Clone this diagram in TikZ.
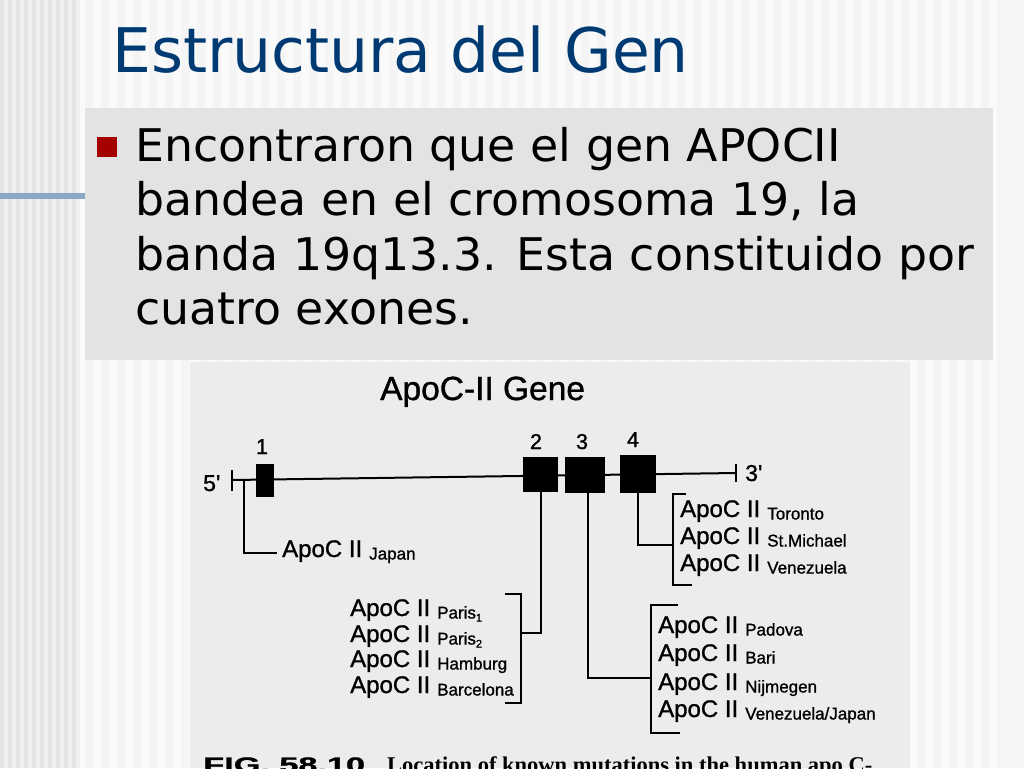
\documentclass[tikz,border=0pt]{standalone}
\usepackage{fontspec}
\setmainfont{DejaVu Sans}
\newfontfamily\figfont[FakeBold=1.1]{Liberation Sans}
\newfontfamily\capserif{Liberation Serif}
\definecolor{titleblue}{RGB}{0,58,115}
\definecolor{bulletred}{RGB}{165,0,0}
\definecolor{boxgrey}{RGB}{227,227,227}
\definecolor{scangrey}{RGB}{236,236,236}
\definecolor{lineblue}{RGB}{141,167,198}
\definecolor{bgA}{RGB}{245,245,245}
\definecolor{bgB}{RGB}{250,250,250}
\definecolor{bandA}{RGB}{229,229,229}
\definecolor{bandB}{RGB}{240,240,240}
\newcommand\apolab[1]{ApoC II\hspace{7pt}{\fontsize{17}{17}\selectfont\raisebox{-2.5pt}{#1}}}
\begin{document}
\begin{tikzpicture}[x=1pt,y=-1pt,
  titletext/.style={anchor=base west,inner sep=0pt,text=titleblue,font=\fontsize{61.5}{74}\selectfont},
  bodytext/.style={anchor=base west,inner sep=0pt,xscale=1.018,transform shape,font=\fontsize{45}{54}\selectfont},
  exon/.style={fill=black,draw=none,inner sep=0pt},
  gline/.style={line width=2pt,line cap=butt,line join=miter},
  apo/.style={anchor=base west,inner sep=0pt,font=\figfont\fontsize{24}{24}\selectfont},
  exnum/.style={anchor=base,inner sep=0pt,font=\figfont\fontsize{21.5}{22}\selectfont},
  endlab/.style={anchor=base west,inner sep=0pt,font=\figfont\fontsize{23}{23}\selectfont}]
\useasboundingbox (0,0) rectangle (1024,768);
\begin{scope}
\clip (0,0) rectangle (1024,768);
% background
\fill[bgA] (0,0) rectangle (1024,768);
\foreach \i in {0,...,57} {\fill[bgB] ({77+\i*16},0) rectangle ++(8,768);}
\fill[bgA] (1010,0) rectangle (1024,768);
\fill[bandA] (0,0) rectangle (77,768);
\foreach \i in {0,...,9} {\fill[bandB] ({4+\i*8},0) rectangle ++(4,768);}
% blue rule
\fill[lineblue] (0,193) rectangle (85,199);
% title
\node[titletext] (title) at (112,72) {Estructura del Gen};
% bullet box
\fill[boxgrey] (85,108) rectangle (993,360);
\node[fill=bulletred,minimum size=20pt,inner sep=0pt] (bullet) at (107,147) {};
\node[bodytext] (l1) at (135,161) {Encontraron que el gen APOCII};
\node[bodytext] (l2) at (135,215.5) {bandea en el cromosoma 19, la};
\node[bodytext] (l3) at (135,270) {banda 19q13.3. Esta constituido por};
\node[bodytext] (l4) at (135,324.5) {cuatro exones.};
% scanned figure background
\fill[scangrey] (190,362) rectangle (910,768);
\node[anchor=base west,inner sep=0pt,font=\figfont\fontsize{33.5}{34}\selectfont] (gtitle) at (380,400) {ApoC-II Gene};
% gene line
\coordinate (t5) at (232,480);
\coordinate (t3) at (736,473);
\draw[gline] (t5) -- (t3);
\draw[gline] ([yshift=-11pt]t5) -- ([yshift=10pt]t5);
\draw[gline] ([yshift=-9pt]t3) -- ([yshift=9pt]t3);
\node[endlab] (five) at (203,491) {5'};
\node[endlab] (three) at (745,481) {3'};
% exons
\node[exon,minimum width=18pt,minimum height=33pt] (e1) at (265,480.5) {};
\node[exon,minimum width=35pt,minimum height=35pt] (e2) at (540.5,474.5) {};
\node[exon,minimum width=40pt,minimum height=36pt] (e3) at (585,475) {};
\node[exon,minimum width=36pt,minimum height=38pt] (e4) at (638,474) {};
\node[exnum] (n1) at (262,454) {1};
\node[exnum] (n2) at (536,449) {2};
\node[exnum] (n3) at (582,449) {3};
\node[exnum] (n4) at (633,447) {4};
% Japan
\coordinate (j0) at (244,480);
\coordinate (j1) at (277,553);
\draw[gline] (j0) |- (j1);
\node[apo] (japan) at (282,557) {\apolab{Japan}};
% exon 2 group
\coordinate (b2top) at (521,594);
\coordinate (b2bot) at (521,703);
\coordinate (b2mid) at (521,633);
\draw[gline] (e2.south) |- (b2mid);
\draw[gline] ([xshift=-16pt]b2top) -- (b2top) -- (b2bot) -- ([xshift=-16pt]b2bot);
\node[apo] (paris1) at (350,616) {\apolab{Paris{\fontsize{11}{11}\selectfont\raisebox{-3pt}{1}}}};
\node[apo] (paris2) at (350,642) {\apolab{Paris{\fontsize{11}{11}\selectfont\raisebox{-3pt}{2}}}};
\node[apo] (hamburg) at (350,667) {\apolab{Hamburg}};
\node[apo] (barcelona) at (350,693) {\apolab{Barcelona}};
% exon 3 group
\coordinate (b3top) at (651,605);
\coordinate (b3bot) at (651,733);
\coordinate (b3mid) at (651,678);
\draw[gline] ([xshift=3pt]e3.south) |- (b3mid);
\draw[gline] ([xshift=27pt]b3top) -- (b3top) -- (b3bot) -- ([xshift=29pt]b3bot);
\node[apo] (padova) at (658,633) {\apolab{Padova}};
\node[apo] (bari) at (658,661) {\apolab{Bari}};
\node[apo] (nijmegen) at (658,690) {\apolab{Nijmegen}};
\node[apo] (venjap) at (658,717) {\apolab{Venezuela/Japan}};
% exon 4 group
\coordinate (b4top) at (673,494);
\coordinate (b4bot) at (673,585);
\coordinate (b4mid) at (673,545);
\draw[gline] (e4.south) |- (b4mid);
\draw[gline] ([xshift=13pt]b4top) -- (b4top) -- (b4bot) -- ([xshift=19pt]b4bot);
\node[apo] (toronto) at (680,517) {\apolab{Toronto}};
\node[apo] (stmichael) at (680,544) {\apolab{St.Michael}};
\node[apo] (venezuela) at (680,571) {\apolab{Venezuela}};
% caption (cut off by the page edge, as in the scan)
\node[anchor=base west,inner sep=0pt,xscale=1.63,transform shape,font=\figfont\bfseries\fontsize{21}{21}\selectfont] (fig) at (203,772) {FIG. 58.10};
\node[anchor=base west,inner sep=0pt,font=\capserif\bfseries\fontsize{22.5}{23}\selectfont] (cap) at (387,772) {Location of known mutations in the human apo C-};
\end{scope}
\end{tikzpicture}
\end{document}
